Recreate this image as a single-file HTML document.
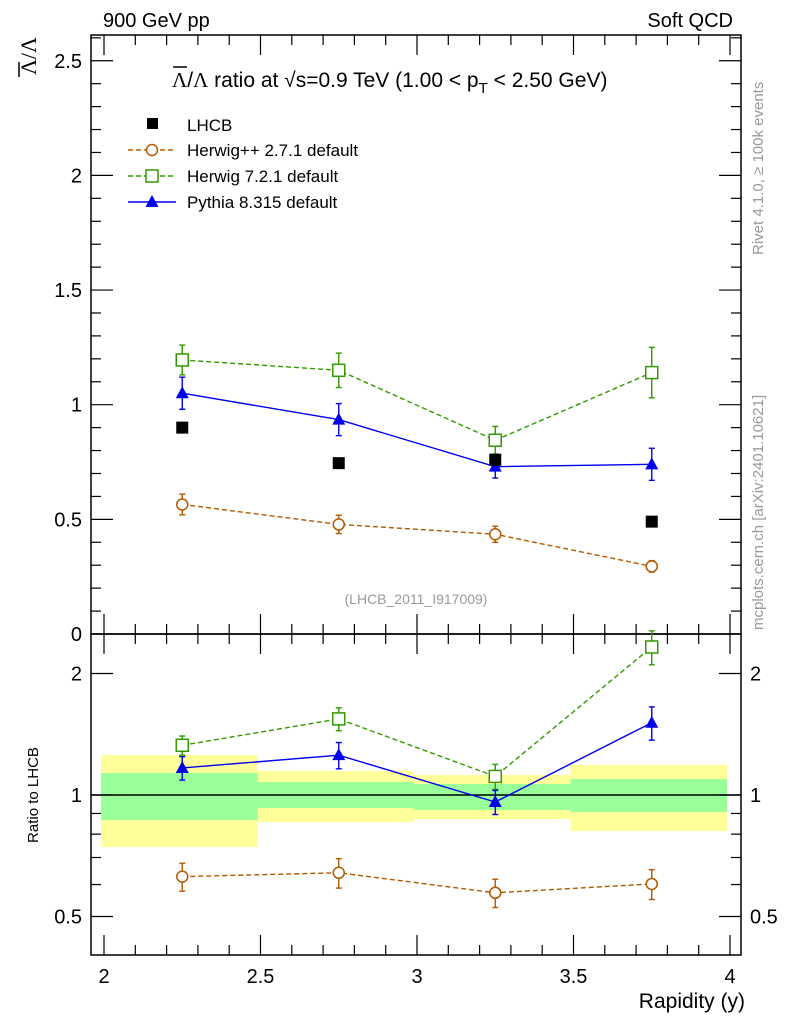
<!DOCTYPE html>
<html><head><meta charset="utf-8"><style>
body{margin:0;background:#fff}
svg{font-family:"Liberation Sans",sans-serif}
</style></head><body>
<svg id="c" width="786" height="1024"></svg>
<script>
const xs=[2.25,2.75,3.25,3.75];
const lhcb=[0.90,0.745,0.76,0.49];
const hpp=[0.565,0.478,0.435,0.295];
const hppErr=[0.045,0.04,0.035,0.025];
const h7=[1.195,1.15,0.845,1.14];
const h7Err=[0.065,0.075,0.06,0.11];
const py=[1.05,0.935,0.73,0.74];
const pyErr=[0.07,0.07,0.05,0.07];
const binEdges=[2,2.5,3,3.5,4];
const yelLo=[0.743,0.857,0.872,0.814];
const yelHi=[1.256,1.147,1.121,1.187];
const grnLo=[0.867,0.929,0.918,0.908];
const grnHi=[1.134,1.077,1.065,1.095];
const xTicks=[2,2.5,3,3.5,4];
const yTicks=[0.5,1,1.5,2,2.5];
const rTicks=[0.5,1,2];

const S=document.getElementById('c');const NS='http://www.w3.org/2000/svg';
function el(t,a,p){const e=document.createElementNS(NS,t);for(const k in a)e.setAttribute(k,a[k]);(p||S).appendChild(e);return e;}
const L=91,R=741,T=35,M=634,B=955;
const X=v=>104+(v-2)*313;
const Y=v=>634-v*229.3;
const RY=v=>795-Math.log2(v)*121.5;

for(let i=0;i<4;i++){
 let r=el('rect',{x:X(binEdges[i])-3,y:RY(yelHi[i]),width:X(binEdges[i+1])-X(binEdges[i]),height:RY(yelLo[i])-RY(yelHi[i]),fill:'#ffff99'});
 
 let g=el('rect',{x:X(binEdges[i])-3,y:RY(grnHi[i]),width:X(binEdges[i+1])-X(binEdges[i]),height:RY(grnLo[i])-RY(grnHi[i]),fill:'#99ff99'});
 
}
el('line',{x1:L,x2:R,y1:RY(1),y2:RY(1),stroke:'#000','stroke-width':1.5});

el('rect',{x:L,y:T,width:R-L,height:M-T,fill:'none',stroke:'#000','stroke-width':1.5});
el('rect',{x:L,y:M,width:R-L,height:B-M,fill:'none',stroke:'#000','stroke-width':1.5});

function txt(x,y,s,o){const e=el('text',Object.assign({x:x,y:y,'font-size':20},o||{}));e.textContent=s;return e;}
for(let v=2;v<=4.001;v+=0.1){const big=Math.abs(v*2-Math.round(v*2))<0.01;const len=big?20:10;
 [[T,1],[M,-1],[M,1],[B,-1]].forEach(([y0,d])=>el('line',{x1:X(v),x2:X(v),y1:y0,y2:y0+d*len,stroke:'#000','stroke-width':1.2}));}
xTicks.forEach(v=>{const t=txt(X(v),983,String(v),{'text-anchor':'middle'});});
for(let v=0.1;v<=2.601;v+=0.1){const big=Math.abs(v*2-Math.round(v*2))<0.01;const len=big?22:10;
 el('line',{x1:L,x2:L+len,y1:Y(v),y2:Y(v),stroke:'#000','stroke-width':1.2});el('line',{x1:R,x2:R-len,y1:Y(v),y2:Y(v),stroke:'#000','stroke-width':1.2});}
yTicks.forEach(v=>{const t=txt(82,Y(v)+7,String(v),{'text-anchor':'end'});});
txt(82,641,'0',{'text-anchor':'end'});
[0.5,0.6,0.7,0.8,0.9,1,2].forEach(v=>{const big=rTicks.includes(v);const len=big?22:10;
 el('line',{x1:L,x2:L+len,y1:RY(v),y2:RY(v),stroke:'#000','stroke-width':1.2});el('line',{x1:R,x2:R-len,y1:RY(v),y2:RY(v),stroke:'#000','stroke-width':1.2});});
rTicks.forEach(v=>{const t=txt(82,RY(v)+7,String(v),{'text-anchor':'end'});
 txt(750,RY(v)+7,String(v));});

function series(vals,err,color,dash,marker,yf,name){
 const pts=vals.map((v,i)=>[X(xs[i]),yf(v)]);
 const pl=el('polyline',{points:pts.map(p=>p.join(',')).join(' '),fill:'none',stroke:color,'stroke-width':1.4,'stroke-dasharray':dash||'none'});
 
 vals.forEach((v,i)=>{const x=pts[i][0],y=pts[i][1];
  if(err){const y1=yf(v+err[i]),y2=yf(v-err[i]);el('line',{x1:x,x2:x,y1:y1,y2:y2,stroke:color,'stroke-width':1.4});
   el('line',{x1:x-3,x2:x+3,y1:y1,y2:y1,stroke:color,'stroke-width':1.4});el('line',{x1:x-3,x2:x+3,y1:y2,y2:y2,stroke:color,'stroke-width':1.4});}
  let m;
  if(marker==='circle')m=el('circle',{cx:x,cy:y,r:5.5,fill:'#fff',stroke:color,'stroke-width':1.5});
  else if(marker==='square')m=el('rect',{x:x-6,y:y-6,width:12,height:12,fill:'#fff',stroke:color,'stroke-width':1.5});
  else m=el('polygon',{points:`${x},${y-7} ${x-6.5},${y+5} ${x+6.5},${y+5}`,fill:color});
  
 });
}
series(hpp,hppErr,'#b35900','5,3','circle',Y,'herwigpp');
series(h7,h7Err,'#339900','5,3','square',Y,'herwig7');
series(py,pyErr,'#0000ee',null,'tri',Y,'pythia');
lhcb.forEach((v,i)=>{const r=el('rect',{x:X(xs[i])-6,y:Y(v)-6,width:12,height:12,fill:'#000'});});
const rr=a=>a.map((v,i)=>v/lhcb[i]);const re=(a,e)=>e.map((v,i)=>v/lhcb[i]);
series(rr(hpp),re(hpp,hppErr),'#b35900','5,3','circle',RY,'herwigpp-ratio');
series(rr(h7),re(h7,h7Err),'#339900','5,3','square',RY,'herwig7-ratio');
series(rr(py),re(py,pyErr),'#0000ee',null,'tri',RY,'pythia-ratio');

const lg=el('g',{});
el('rect',{x:147,y:118,width:11,height:11,fill:'#000'},lg);
txt(187,131,'LHCB',{'font-size':17},lg);
[['Herwig++ 2.7.1 default','#b35900','5,3','circle',150],['Herwig 7.2.1 default','#339900','5,3','square',176],['Pythia 8.315 default','#0000ee','none','tri',202]].forEach(([n,c,d,m,y])=>{
 el('line',{x1:128,x2:176,y1:y,y2:y,stroke:c,'stroke-width':1.4,'stroke-dasharray':d},lg);
 if(m==='circle')el('circle',{cx:152,cy:y,r:5.5,fill:'#fff',stroke:c,'stroke-width':1.5},lg);
 else if(m==='square')el('rect',{x:146,y:y-6,width:12,height:12,fill:'#fff',stroke:c,'stroke-width':1.5},lg);
 else el('polygon',{points:`152,${y-7} 145.5,${y+5} 158.5,${y+5}`,fill:c},lg);
 txt(187,y+6,n,{'font-size':17},lg);
});
txt(103,27,'900 GeV pp');
txt(733,27,'Soft QCD',{'text-anchor':'end'});
const ti=txt(172,87,'',{'font-size':21});
ti.innerHTML='<tspan font-family="Liberation Serif">Λ</tspan>/<tspan font-family="Liberation Serif">Λ</tspan> ratio at √s=0.9 TeV (1.00 &lt; p<tspan dy="6" font-size="15">T</tspan><tspan dy="-6"> &lt; 2.50 GeV)</tspan>';
el('line',{x1:173,x2:187,y1:67,y2:67,stroke:'#000','stroke-width':1.5});
const yl=txt(0,0,'',{'font-size':22,transform:'translate(36,56) rotate(-90)','text-anchor':'middle','font-family':'Liberation Serif'});
yl.innerHTML='Λ/Λ';
el('line',{x1:19,x2:19,y1:62,y2:77,stroke:'#000','stroke-width':1.5});
const rl=txt(0,0,'Ratio to LHCB',{'font-size':15,transform:'translate(38,795) rotate(-90)','text-anchor':'middle'});
const xl=txt(745,1008,'Rapidity (y)',{'text-anchor':'end','font-size':21});
txt(416,604,'(LHCB_2011_I917009)',{'text-anchor':'middle','font-size':14,fill:'#999'});
txt(0,0,'Rivet 4.1.0, ≥ 100k events',{'font-size':15,fill:'#999',transform:'translate(763,255) rotate(-90)'});
txt(0,0,'mcplots.cern.ch [arXiv:2401.10621]',{'font-size':15,fill:'#999',transform:'translate(763,630) rotate(-90)'});
</script>
</body></html>
